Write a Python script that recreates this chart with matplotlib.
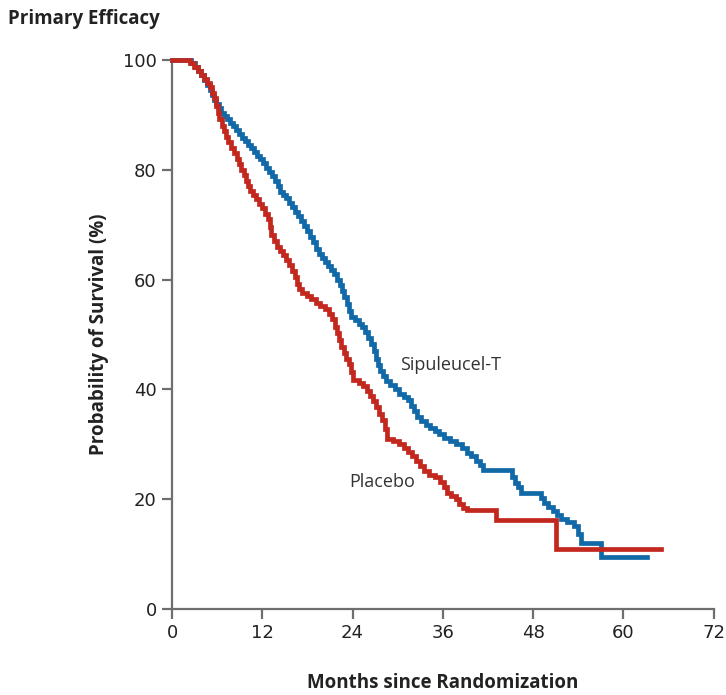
import matplotlib
matplotlib.use("Agg")
import matplotlib.pyplot as plt

# Sipuleucel-T (step times in months, survival %)
sip_t = [0, 2.5, 3.0, 3.4, 3.8, 4.2, 4.6, 5.0, 5.3, 5.6, 5.9, 6.2, 6.5, 6.9, 7.3,
         7.7, 8.1, 8.5, 8.9, 9.3, 9.7, 10.1, 10.5, 10.9, 11.3, 11.7, 12.1, 12.5,
         12.9, 13.3, 13.7, 14.1, 14.4, 14.8, 15.2, 15.6, 16.0, 16.4, 16.8, 17.2,
         17.6, 18.0, 18.4, 18.8, 19.1, 19.5, 19.9, 20.3, 20.7, 21.1, 21.5, 21.9,
         22.3, 22.6, 22.9, 23.2, 23.5, 23.8, 24.3, 24.8, 25.3, 25.7, 26.1, 26.5,
         26.8, 27.1, 27.4, 27.7, 28.1, 28.5, 29.0, 29.6, 30.2, 30.8, 31.4, 31.8,
         32.2, 32.6, 33.1, 33.7, 34.3, 34.9, 35.5, 36.2, 37.0, 37.8, 38.5, 39.2,
         39.8, 40.4, 40.9, 41.4, 45.2, 45.6, 46.0, 46.4, 49.0, 49.5, 50.0, 50.6,
         51.2, 51.7, 52.5, 53.5, 54.0, 54.3, 57.0, 63.2]
sip_s = [100, 99.4, 98.8, 98, 97.2, 96.4, 95.5, 94.6, 93.7, 92.8, 92, 91.2, 90.4,
         89.8, 89.2, 88.6, 88, 87.3, 86.5, 85.8, 85.2, 84.5, 84, 83.3, 82.6, 82,
         81.2, 80.4, 79.6, 78.8, 78, 77, 76, 75.4, 74.8, 74, 73.2, 72.4, 71.5,
         70.6, 69.7, 68.8, 67.8, 66.8, 65.6, 64.6, 64, 63.2, 62.4, 61.8, 61, 60,
         59, 58, 56.8, 55.6, 54.2, 53.2, 52.6, 52, 51.4, 50.4, 49.4, 48.2, 47,
         45.6, 44.4, 43.4, 42.4, 41.6, 40.8, 40, 39.2, 38.6, 38, 37, 36, 35, 34.2,
         33.6, 33, 32.4, 31.8, 31.2, 30.6, 30, 29.3, 28.5, 27.8, 27, 26.2, 25.3,
         24, 23, 22.2, 21.1, 20.2, 19.4, 18.6, 17.9, 17.2, 16.4, 15.8, 15.2, 13.6,
         12.0, 9.5, 9.5]

# Placebo
pla_t = [0, 2.4, 2.9, 3.4, 3.8, 4.2, 4.6, 5.0, 5.3, 5.6, 5.9, 6.1, 6.3, 6.6, 6.9,
         7.2, 7.5, 7.9, 8.3, 8.6, 8.9, 9.2, 9.5, 9.8, 10.1, 10.4, 10.8, 11.2, 11.6,
         12.0, 12.4, 12.7, 13.0, 13.2, 13.5, 13.9, 14.3, 14.7, 15.1, 15.5, 15.9,
         16.3, 16.6, 16.9, 17.3, 17.9, 18.5, 19.1, 19.7, 20.3, 20.9, 21.3, 21.6,
         21.9, 22.2, 22.5, 22.8, 23.1, 23.5, 23.8, 24.1, 24.8, 25.4, 25.9, 26.3,
         26.7, 27.1, 27.5, 27.9, 28.3, 28.6, 29.4, 30.2, 30.8, 31.4, 31.9, 32.4,
         32.9, 33.5, 34.2, 35.0, 35.6, 36.1, 36.6, 37.1, 37.7, 38.2, 38.7, 39.2,
         43.1, 51.1, 65.0]
pla_s = [100, 99.4, 98.8, 98, 97.3, 96.6, 95.8, 95, 94, 93, 91.6, 90.4, 89.2, 88,
         87, 86, 85, 84, 83, 82, 81, 80, 79, 78, 77, 76.2, 75.4, 74.6, 73.8, 73,
         72, 71, 69.6, 68.2, 67, 66, 65.2, 64.4, 63.6, 62.6, 61.6, 60.4, 59.2,
         58.2, 57.6, 57, 56.4, 55.8, 55.2, 54.6, 53.8, 52.8, 51.4, 50.2, 49, 47.8,
         46.6, 45.6, 44.6, 43.2, 41.8, 41.2, 40.6, 39.8, 38.8, 37.8, 36.8, 35.6,
         34.4, 32.8, 31, 30.6, 30, 29.3, 28.6, 27.8, 27, 26, 25.2, 24.5, 24, 23.2,
         22.2, 21.2, 20.6, 20, 19.2, 18.4, 18, 16.2, 10.9, 10.9]

x_ticks = [0, 12, 24, 36, 48, 60, 72]
y_ticks = [0, 20, 40, 60, 80, 100]

BLUE = "#1169a8"
RED = "#c3281f"
AXC = "#6e6e6e"

fig = plt.figure(figsize=(7.26, 6.95), dpi=100)
ax = fig.add_axes([0.237, 0.1237, 0.746, 0.790])

ax.step(sip_t, sip_s, where="post", color=BLUE, lw=3.4, clip_on=False,
        solid_joinstyle="miter", zorder=3)
ax.step(pla_t, pla_s, where="post", color=RED, lw=3.4, clip_on=False,
        solid_joinstyle="miter", zorder=4)

ax.set_xlim(0, 72)
ax.set_ylim(0, 100)
ax.set_xticks(x_ticks)
ax.set_yticks(y_ticks)

for side in ["top", "right"]:
    ax.spines[side].set_visible(False)
for side in ["left", "bottom"]:
    ax.spines[side].set_color(AXC)
    ax.spines[side].set_linewidth(1.6)

tick_font = ["Liberation Sans Narrow", "DejaVu Sans"]
ax.tick_params(axis="both", direction="out", length=7, width=1.6, color=AXC,
               labelsize=13, labelcolor="#222222", pad=4)
for lab in ax.get_xticklabels() + ax.get_yticklabels():
    lab.set_family(tick_font)

lab_font = ["Open Sans", "DejaVu Sans"]
ax.set_xlabel("Months since Randomization", fontsize=13.5, fontweight="bold",
              family=lab_font, color="#222222", labelpad=22)
ax.set_ylabel("Probability of Survival (%)", fontsize=13.5, fontweight="bold",
              family=lab_font, color="#222222", labelpad=10)

fig.text(0.011, 0.972, "Primary Efficacy", fontsize=13.5, fontweight="bold",
         family=lab_font, color="#222222", va="center", ha="left")

ax.text(30.3, 44.4, "Sipuleucel-T", fontsize=13, family=lab_font,
        color="#333333", va="center", ha="left")
ax.text(23.6, 23.1, "Placebo", fontsize=13, family=lab_font,
        color="#333333", va="center", ha="left")

fig.savefig("out.png", dpi=100)
